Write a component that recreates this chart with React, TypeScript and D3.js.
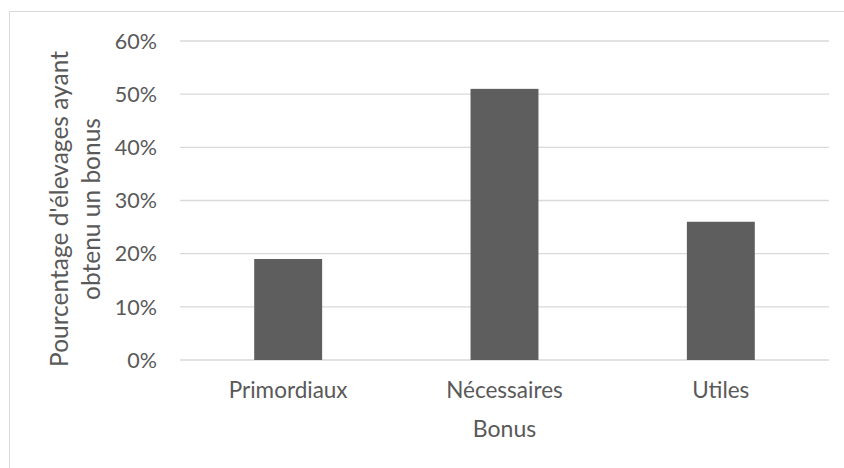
import React from "react";
import * as d3 from "d3";

const categories = ["Primordiaux", "Nécessaires", "Utiles"];
const values = [0.19, 0.51, 0.26];
const yTicks = [0, 0.1, 0.2, 0.3, 0.4, 0.5, 0.6];
const yTitleLines = ["Pourcentage d'élevages ayant", "obtenu un bonus"];
const xTitle = "Bonus";

const W = 844;
const H = 468;
const FONT = "Lato, 'Open Sans', sans-serif";
const TEXT = "#595959";
const GRID = "#d9d9d9";
const BAR = "#5e5e5e";

export default function App() {
  const left = 180, right = 829, top = 41, bottom = 360;
  const x = d3.scaleBand<string>().domain(categories).range([left, right]).padding(0);
  const y = d3.scaleLinear().domain([0, 0.6]).range([bottom, top]);
  const barW = x.bandwidth() * 0.314;
  const fmt = d3.format(".0%");
  const titleCy = 209;

  return (
    <svg width={W} height={H} style={{ position: "absolute", left: 0, top: 0, background: "#fff" }}>
      <rect x={0} y={0} width={W} height={H} fill="#fff" />
      <line x1={9.5} y1={11.5} x2={W} y2={11.5} stroke={GRID} strokeWidth={1} />
      <line x1={9.5} y1={11.5} x2={9.5} y2={H} stroke={GRID} strokeWidth={1} />
      {yTicks.map((t) => (
        <g key={t}>
          <line x1={left} x2={right} y1={y(t)} y2={y(t)} stroke={GRID} strokeWidth={1.3} />
          <text x={157} y={y(t)} dy="0.36em" textAnchor="end" fill={TEXT} fontFamily={FONT} fontSize={21.5}>
            {fmt(t)}
          </text>
        </g>
      ))}
      {categories.map((c, i) => {
        const cx = (x(c) as number) + x.bandwidth() / 2;
        return (
          <g key={c}>
            <rect x={cx - barW / 2} y={y(values[i])} width={barW} height={y(0) - y(values[i])} fill={BAR} />
            <text x={cx} y={398} textAnchor="middle" fill={TEXT} fontFamily={FONT} fontSize={22.5}>
              {c}
            </text>
          </g>
        );
      })}
      <text x={(left + right) / 2} y={437} textAnchor="middle" fill={TEXT} fontFamily={FONT} fontSize={23}>
        {xTitle}
      </text>
      {yTitleLines.map((l, i) => (
        <text
          key={l}
          transform={`translate(${68 + i * 32},${titleCy}) rotate(-90)`}
          textAnchor="middle"
          fill={TEXT}
          fontFamily={FONT}
          fontSize={24.5}
        >
          {l}
        </text>
      ))}
    </svg>
  );
}
